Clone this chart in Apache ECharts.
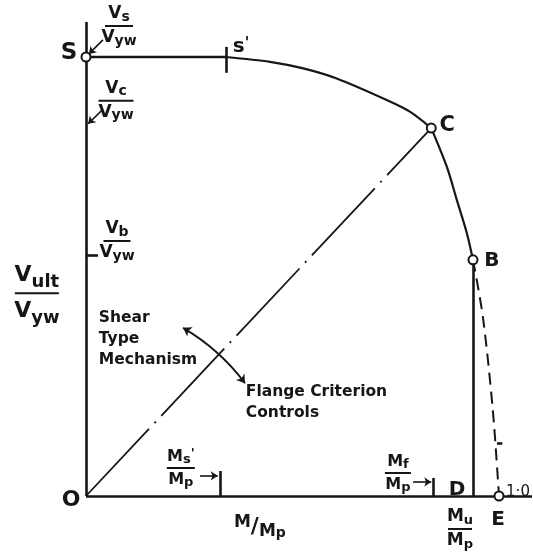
<!DOCTYPE html>
<html>
<head>
<meta charset="utf-8">
<script src="https://cdn.jsdelivr.net/npm/echarts@6/dist/echarts.min.js"></script>
<style>
  html, body { margin: 0; padding: 0; background: #fff; }
  #chart { width: 533px; height: 557px; }
</style>
</head>
<body>
<div id="chart"></div>
<script>
// Interaction diagram: ultimate shear V/Vyw against moment M/Mp

// Plateau S - s'
const plateauM = [0, 0.339];
const plateauV = [1.0, 1.0];

// Upper arc s' - C
const upperArcM = [0.339, 0.4455, 0.526, 0.607, 0.728, 0.785, 0.836];
const upperArcV = [1.0, 0.989, 0.974, 0.951, 0.902, 0.875, 0.838];

// Lower arc C - B
const lowerArcM = [0.836, 0.874, 0.898, 0.922, 0.937];
const lowerArcV = [0.838, 0.749, 0.674, 0.599, 0.538];

// Flange criterion continuation B - E (dashed)
const flangeM = [0.937, 0.961, 0.985, 1.0];
const flangeV = [0.538, 0.408, 0.196, 0.0];

// Labelled nodes
const nodeNames = ['S', 'C', 'B', 'E'];
const nodeM = [0, 0.836, 0.937, 1.0];
const nodeV = [1.0, 0.838, 0.538, 0.0];

// Reference values on the axes
const muMp = 0.937;       // Mu/Mp (point D)
const msPrimeMp = 0.324;  // Ms'/Mp
const mfMp = 0.840;       // Mf/Mp
const sPrimeM = 0.339;    // s'
const vsVyw = 1.0;        // Vs/Vyw
const vcVyw = 0.850;      // Vc/Vyw
const vbVyw = 0.549;      // Vb/Vyw
const axisEnd = 1.08;

// Frame: pixel position of the origin and pixels per unit
const W = 533, H = 557, OX = 86, OY = 496, UX = 413, UY = 439;

const INK = '#161616';
const FONT = '"DejaVu Sans", sans-serif';

const zip = (a, b) => a.map((v, i) => [v, b[i]]);

function fractionRich(size, subSize, barW, lineGap) {
  const lh = size + (lineGap || 3);
  const base = { fontFamily: FONT, color: INK, fontWeight: 'bold' };
  return {
    V: Object.assign({ fontSize: size, lineHeight: lh, verticalAlign: 'middle' }, base),
    s: Object.assign({ fontSize: subSize, lineHeight: subSize, verticalAlign: 'bottom' }, base),
    p: Object.assign({ fontSize: subSize, lineHeight: subSize, verticalAlign: 'top' }, base),
    bar: { width: barW, height: 2, lineHeight: 4, backgroundColor: INK }
  };
}

function textPoint(pos, formatter, rich, opts) {
  opts = opts || {};
  const label = Object.assign({
    show: true,
    position: 'inside',
    formatter: formatter,
    color: INK,
    opacity: 1,
    fontFamily: FONT,
    align: 'center',
    verticalAlign: 'middle'
  }, opts);
  if (rich) label.rich = rich;
  return { value: pos, label: label };
}

const letter = (size) => ({ L: { fontFamily: FONT, fontSize: size, color: INK, fontWeight: 'bold' } });

const labels = [
  // node letters
  textPoint([nodeM[0], nodeV[0]], '{L|S}', letter(23), { offset: [-17, -4] }),
  textPoint([nodeM[1], nodeV[1]], '{L|C}', letter(21), { offset: [16, -3] }),
  textPoint([nodeM[2], nodeV[2]], '{L|B}', letter(20), { offset: [19, 1] }),
  textPoint([nodeM[3], nodeV[3]], '{L|E}', letter(20), { offset: [-1, 24] }),
  textPoint([muMp, 0], '{L|D}', letter(20), { offset: [-16, -6] }),
  textPoint([0, 0], '{L|O}', letter(22), { offset: [-15, 4] }),
  textPoint([sPrimeM, vsVyw], "{L|s}{q|'}", Object.assign(letter(20), { q: { fontFamily: FONT, fontSize: 15, color: INK, fontWeight: 'bold', verticalAlign: 'top', lineHeight: 14 } }), { offset: [15, -10] }),
  textPoint([nodeM[3], 0], '1·0', null, { offset: [19, -4], fontSize: 15 }),

  // fractions on the shear axis
  textPoint([0, vsVyw], '{V|V}{s|s}\n{bar|}\n{V|V}{s|yw}', fractionRich(17, 14, 28), { offset: [33, -31] }),
  textPoint([0, vcVyw], '{V|V}{s|c}\n{bar|}\n{V|V}{s|yw}', fractionRich(17, 14, 35), { offset: [30, -22] }),
  textPoint([0, vbVyw], '{V|V}{s|b}\n{bar|}\n{V|V}{s|yw}', fractionRich(17, 14, 27), { offset: [31, -14] }),

  // fractions on the moment axis
  textPoint([msPrimeMp, 0], "{V|M}{s|s}{p|'}\n{bar|}\n{V|M}{s|p}", fractionRich(16, 13, 28), { offset: [-39, -28] }),
  textPoint([mfMp, 0], '{V|M}{s|f}\n{bar|}\n{V|M}{s|p}', fractionRich(16, 13, 26), { offset: [-35, -23] }),
  textPoint([muMp, 0], '{V|M}{s|u}\n{bar|}\n{V|M}{s|p}', fractionRich(17, 13, 24), { offset: [-13, 33] }),

  // axis titles
  textPoint([-0.119, 0.462], '{V|V}{s|ult}\n{bar|}\n{V|V}{s|yw}', fractionRich(22, 18, 44, 10)),
  textPoint([0.421, -0.071], '{a|M}{sl|/}{b|M}{s|p}', {
    a: { fontFamily: FONT, fontSize: 17, color: INK, fontWeight: 'bold', lineHeight: 18, verticalAlign: 'top' },
    sl: { fontFamily: FONT, fontSize: 22, color: INK, fontWeight: 'bold', lineHeight: 26, verticalAlign: 'middle' },
    b: { fontFamily: FONT, fontSize: 17, color: INK, fontWeight: 'bold', lineHeight: 18, verticalAlign: 'bottom' },
    s: { fontFamily: FONT, fontSize: 14, color: INK, fontWeight: 'bold', lineHeight: 14, verticalAlign: 'bottom' }
  }),

  // region notes
  textPoint([0.031, 0.358], 'Shear\nType\nMechanism', null, { align: 'left', fontSize: 15.5, lineHeight: 21, fontWeight: 'bold' }),
  textPoint([0.387, 0.214], 'Flange Criterion\nControls', null, { align: 'left', fontSize: 15.5, lineHeight: 21, fontWeight: 'bold' })
];

// Straight strokes: axes, D vertical, ticks
const strokes = [
  [[0, 0], [0, axisEnd]],
  [[0, 0], [axisEnd, 0]],
  [[muMp, 0], [nodeM[2], nodeV[2]]],
  [[sPrimeM, 0.964], [sPrimeM, 1.023]],
  [[msPrimeMp, 0], [msPrimeMp, 0.057]],
  [[mfMp, 0], [mfMp, 0.041]],
  [[0, vbVyw], [0.029, vbVyw]],
  [[0.995, 0.121], [1.008, 0.121]]
];

// Pointer arrows
const arrows = [
  [[0.041, 1.039], [0.007, 1.007]],
  [[0.039, 0.879], [0.005, 0.848]],
  [[0.276, 0.046], [0.319, 0.046]],
  [[0.792, 0.032], [0.836, 0.032]]
];

const chart = echarts.init(document.getElementById('chart'), null, { renderer: 'canvas' });

const curve = (data, extra) => Object.assign({
  type: 'line', silent: true, symbol: 'none', smooth: 0.3,
  lineStyle: { color: INK, width: 2.2 },
  data: data
}, extra || {});

chart.setOption({
  backgroundColor: '#fff',
  animation: false,
  grid: { left: 0, right: 0, top: 0, bottom: 0 },
  xAxis: { type: 'value', min: -OX / UX, max: (W - OX) / UX, show: false },
  yAxis: { type: 'value', min: -(H - OY) / UY, max: OY / UY, show: false },
  series: [
    {
      type: 'lines', coordinateSystem: 'cartesian2d', silent: true,
      lineStyle: { color: INK, width: 2.6, opacity: 1 },
      data: strokes.map(c => ({ coords: c }))
    },
    {
      // chain line O - C
      type: 'line', silent: true, symbol: 'none',
      lineStyle: { color: INK, width: 1.8, type: [92, 8, 2, 8] },
      data: [[0, 0], [nodeM[1], nodeV[1]]]
    },
    curve(zip(plateauM, plateauV), { smooth: false, lineStyle: { color: INK, width: 2.6 } }),
    curve(zip(upperArcM, upperArcV)),
    curve(zip(lowerArcM, lowerArcV)),
    curve(zip(flangeM, flangeV), { lineStyle: { color: INK, width: 2, type: [12, 7] } }),
    {
      type: 'lines', coordinateSystem: 'cartesian2d', silent: true,
      symbol: ['none', 'arrow'], symbolSize: 7,
      lineStyle: { color: INK, width: 1.6, opacity: 1 },
      data: arrows.map(c => ({ coords: c }))
    },
    {
      type: 'lines', coordinateSystem: 'cartesian2d', silent: true,
      symbol: ['arrow', 'arrow'], symbolSize: 8,
      lineStyle: { color: INK, width: 1.8, opacity: 1, curveness: 0.1 },
      data: [{ coords: [[0.235, 0.383], [0.385, 0.257]] }]
    },
    {
      type: 'scatter', silent: true, symbol: 'circle', symbolSize: 9, z: 5,
      itemStyle: { color: '#fff', borderColor: INK, borderWidth: 2, opacity: 1 },
      data: zip(nodeM, nodeV)
    },
    {
      type: 'scatter', silent: true, symbol: 'circle', symbolSize: 1, z: 6, clip: false,
      itemStyle: { color: 'rgba(0,0,0,0)', opacity: 1 },
      data: labels
    }
  ]
});
</script>
</body>
</html>
